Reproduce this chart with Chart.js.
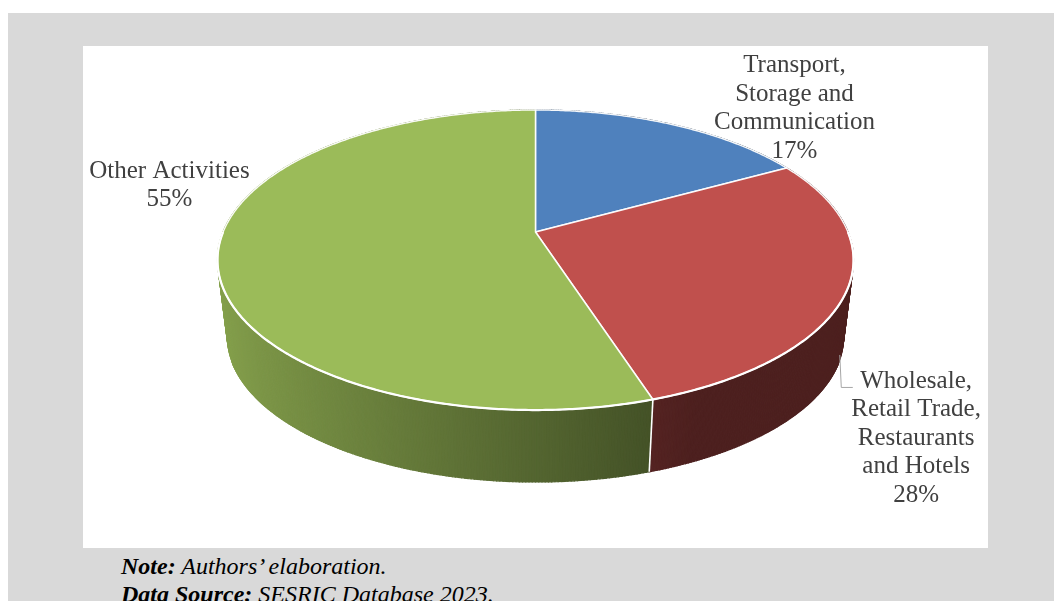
<!DOCTYPE html>
<html>
<head>
<meta charset="utf-8">
<script src="https://cdn.jsdelivr.net/npm/chart.js@4.4.1/dist/chart.umd.min.js"></script>
<style>
  html, body { margin: 0; padding: 0; background: #ffffff; width: 1054px; height: 601px; overflow: hidden; }
  #frame { position: absolute; left: 8px; top: 13px; width: 1046px; height: 600px; background: #d9d9d9; }
  #plot { position: absolute; left: 83px; top: 46px; width: 905px; height: 502px; background: #ffffff; }
  #notes { position: absolute; left: 121px; top: 552px; font-family: "Liberation Serif", serif; font-style: italic;
           font-size: 24px; line-height: 28px; color: #000000; white-space: nowrap; }
  #notes b { font-weight: bold; }
</style>
</head>
<body>
<div id="frame"></div>
<div id="plot"><canvas id="chart" width="905" height="502"></canvas></div>
<div id="notes">
  <div><b>Note:</b> Authors’ elaboration.</div>
  <div><b>Data Source:</b> SESRIC Database 2023.</div>
</div>
<script>
// Sector shares of activity
const categories = [
  ['Transport,', 'Storage and', 'Communication'],
  ['Wholesale,', 'Retail Trade,', 'Restaurants', 'and Hotels'],
  ['Other Activities']
];
const values = [17, 28, 55];
const sliceColors = ['#4f81bd', '#c0504d', '#9bbb59'];

// Label placement relative to the slice mid-point on the rim (dx, dy to first baseline)
const labelOffsets = [[122, -52.6], [68.7, 98.7], [-48.2, -77.6]];

function shade(hex, f) {
  const n = parseInt(hex.slice(1), 16);
  const r = Math.round(((n >> 16) & 255) * f);
  const g = Math.round(((n >> 8) & 255) * f);
  const b = Math.round((n & 255) * f);
  return `rgb(${r},${g},${b})`;
}

// Draws the pie as a tilted cylinder in perspective
const pie3d = {
  id: 'pie3d',
  beforeDatasetsDraw(chart, args, o) {
    const ctx = chart.ctx;
    const arcs = chart.getDatasetMeta(0).data;
    const cx = (chart.chartArea.left + chart.chartArea.right) / 2;
    const cy = chart.chartArea.top + o.centerY;
    const proj = (ang, bottom) => {
      const u = Math.cos(ang), v = -Math.sin(ang);
      const w = 1 + o.persp * v;
      const s = bottom ? o.bottomScale : 1;
      return [cx + s * o.rx * u / w, cy + (bottom ? o.depth : 0) - s * o.ry * v / w];
    };
    chart.$proj = proj;

    // side walls
    const segs = [];
    arcs.forEach((arc, i) => {
      const a0 = arc.startAngle, a1 = arc.endAngle;
      const step = Math.PI / 360;
      for (let a = a0; a < a1 - 1e-9; a += step) {
        const b = Math.min(a + step, a1);
        segs.push({ i, a, b, v: -Math.sin((a + b) / 2), u: Math.cos((a + b) / 2) });
      }
    });
    segs.sort((p, q) => q.v - p.v);
    segs.forEach(s => {
      const f = Math.max(0.40, Math.min(0.9, 0.54 - 0.328 * s.u));
      const col = shade(sliceColors[s.i], f);
      const p1 = proj(s.a, false), p2 = proj(s.b, false), p3 = proj(s.b, true), p4 = proj(s.a, true);
      ctx.beginPath();
      ctx.moveTo(p1[0], p1[1]); ctx.lineTo(p2[0], p2[1]); ctx.lineTo(p3[0], p3[1]); ctx.lineTo(p4[0], p4[1]);
      ctx.closePath();
      ctx.fillStyle = col; ctx.strokeStyle = col; ctx.lineWidth = 1.2;
      ctx.fill(); ctx.stroke();
    });
    // white seams between slices on the visible wall
    arcs.forEach(arc => {
      const a = arc.startAngle;
      if (-Math.sin(a) < -o.persp) {
        const t = proj(a, false), b = proj(a, true);
        ctx.beginPath(); ctx.moveTo(t[0], t[1]); ctx.lineTo(b[0], b[1]);
        ctx.strokeStyle = '#ffffff'; ctx.lineWidth = 1.6; ctx.stroke();
      }
    });

    // top faces
    arcs.forEach((arc, i) => {
      ctx.beginPath();
      ctx.moveTo(cx, cy);
      const step = Math.PI / 360;
      for (let a = arc.startAngle; a < arc.endAngle; a += step) {
        const p = proj(a, false); ctx.lineTo(p[0], p[1]);
      }
      const e = proj(arc.endAngle, false); ctx.lineTo(e[0], e[1]);
      ctx.closePath();
      ctx.fillStyle = sliceColors[i]; ctx.fill();
      ctx.strokeStyle = 'rgba(255,255,255,0.95)'; ctx.lineWidth = 1.5; ctx.lineJoin = 'round'; ctx.stroke();
    });
    // bright front rim
    ctx.beginPath();
    let first = true;
    for (let a = 0; a <= Math.PI; a += Math.PI / 360) {
      const p = proj(a, false);
      if (first) { ctx.moveTo(p[0], p[1]); first = false; } else ctx.lineTo(p[0], p[1]);
    }
    ctx.strokeStyle = '#ffffff'; ctx.lineWidth = 2.2; ctx.stroke();
    return false;
  },
  // category and percentage labels
  afterDraw(chart, args, o) {
    const ctx = chart.ctx;
    const proj = chart.$proj;
    if (!proj) return;
    const arcs = chart.getDatasetMeta(0).data;
    const total = values.reduce((s, v) => s + v, 0);
    ctx.save();
    ctx.font = '25px "Liberation Serif"';
    ctx.fillStyle = '#404040';
    ctx.textAlign = 'center';
    ctx.textBaseline = 'alphabetic';
    arcs.forEach((arc, i) => {
      const mid = (arc.startAngle + arc.endAngle) / 2;
      const m = proj(mid, false);
      const lx = m[0] + labelOffsets[i][0];
      const ly = m[1] + labelOffsets[i][1];
      const lines = categories[i].concat([Math.round(values[i] / total * 100) + '%']);
      lines.forEach((t, k) => ctx.fillText(t, lx, ly + k * o.lineHeight));
      if (o.leaders[i]) {
        const halfW = Math.max(...lines.map(t => ctx.measureText(t).width)) / 2;
        const x0 = lx - halfW;
        ctx.beginPath();
        ctx.moveTo(x0 + 1.5, ly - 0.5);
        ctx.lineTo(x0 - 10, ly - 0.5);
        ctx.lineTo(x0 - 11.5, ly - 33);
        ctx.strokeStyle = '#a6a6a6'; ctx.lineWidth = 1; ctx.stroke();
      }
    });
    ctx.restore();
  }
};

new Chart(document.getElementById('chart'), {
  type: 'pie',
  data: {
    labels: categories.map(c => c.join(' ')),
    datasets: [{ data: values, backgroundColor: sliceColors, borderColor: '#ffffff', borderWidth: 1.5 }]
  },
  options: {
    responsive: false,
    animation: false,
    devicePixelRatio: 1,
    plugins: {
      legend: { display: false },
      tooltip: { enabled: false },
      pie3d: { centerY: 186, rx: 312.4, ry: 144.8, persp: 0.1867, bottomScale: 0.969, depth: 77.5,
               lineHeight: 28.5, leaders: [false, true, false] }
    }
  },
  plugins: [pie3d]
});
</script>
</body>
</html>
